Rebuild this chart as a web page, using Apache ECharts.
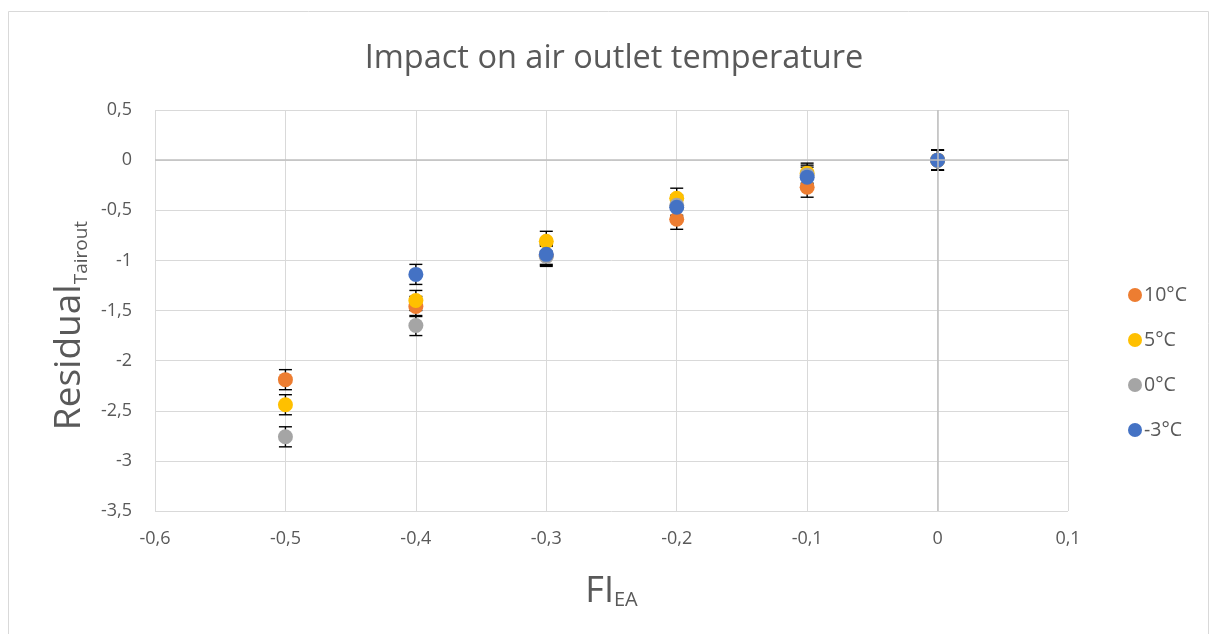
<!DOCTYPE html>
<html>
<head>
<meta charset="utf-8">
<script src="https://cdn.jsdelivr.net/npm/echarts@6/dist/echarts.min.js"></script>
<style>html,body{margin:0;padding:0;background:#fff}#c{width:1212px;height:634px}</style>
</head>
<body>
<div id="c"></div>
<script>
const xValues = [-0.5, -0.4, -0.3, -0.2, -0.1, 0];
const seriesNames = ['10°C', '5°C', '0°C', '-3°C'];
const temp10 = [-2.19, -1.46, -0.95, -0.59, -0.27, 0];
const temp5 = [-2.44, -1.40, -0.81, -0.38, -0.13, 0];
const temp0 = [-2.76, -1.65, -0.96, -0.45, -0.15, 0];
const tempMinus3 = [null, -1.14, -0.94, -0.47, -0.17, 0];
const errorValue = 0.1;
const colors = ['#ED7D31', '#FFC000', '#A5A5A5', '#4472C4'];
const allValues = [temp10, temp5, temp0, tempMinus3];

const font = "'Open Sans', 'Noto Sans', sans-serif";
const fmt = v => { const r = Math.round(v * 10) / 10; return (r === 0 ? '0' : String(r)).replace('.', ','); };

const series = [{
  type: 'scatter', data: [], silent: true, z: 1,
  markLine: {
    silent: true, symbol: ['none', 'none'], label: { show: false },
    lineStyle: { color: '#bfbfbf', width: 1.5, type: 'solid' },
    data: [{ xAxis: 0 }, { yAxis: 0 }]
  }
}];

allValues.forEach((vals, i) => {
  const pts = [];
  const errs = [];
  vals.forEach((v, j) => {
    if (v === null) return;
    pts.push([xValues[j], v]);
    errs.push([xValues[j], v, errorValue]);
  });
  series.push({
    type: 'custom', name: seriesNames[i] + ' err', silent: true, z: 2,
    data: errs,
    encode: { x: 0, y: 1 },
    renderItem: function (params, api) {
      const x = api.value(0), y = api.value(1), e = api.value(2);
      const t = api.coord([x, y + e]);
      const b = api.coord([x, y - e]);
      const hw = 6.5;
      const st = { stroke: '#000', lineWidth: 1.4 };
      return { type: 'group', children: [
        { type: 'line', shape: { x1: t[0], y1: t[1], x2: b[0], y2: b[1] }, style: st },
        { type: 'line', shape: { x1: t[0] - hw, y1: t[1], x2: t[0] + hw, y2: t[1] }, style: st },
        { type: 'line', shape: { x1: b[0] - hw, y1: b[1], x2: b[0] + hw, y2: b[1] }, style: st }
      ] };
    }
  });
  series.push({
    type: 'scatter', name: seriesNames[i], z: 2,
    symbol: 'circle', symbolSize: 15,
    itemStyle: { color: colors[i], opacity: 1 },
    data: pts
  });
});

const chart = echarts.init(document.getElementById('c'), null, { renderer: 'canvas' });
chart.setOption({
  backgroundColor: '#fff',
  animation: false,
  color: colors,
  title: {
    text: 'Impact on air outlet temperature',
    left: 609, top: 37, textAlign: 'center',
    textStyle: { fontFamily: font, fontSize: 32.5, fontWeight: 'normal', color: '#595959' }
  },
  legend: {
    data: seriesNames,
    orient: 'vertical', left: 1123, top: 280,
    itemWidth: 14, itemHeight: 14, itemGap: 25,
    icon: 'circle',
    textStyle: { fontFamily: font, fontSize: 19.5, color: '#595959', padding: [0, 0, 0, -3] }
  },
  graphic: [{
    type: 'rect', silent: true, z: -1,
    shape: { x: 8.5, y: 11.5, width: 1200, height: 700 },
    style: { fill: 'none', stroke: '#d9d9d9', lineWidth: 1 }
  }],
  grid: { left: 155, right: 144, top: 110, bottom: 123 },
  xAxis: {
    type: 'value', min: -0.6, max: 0.1, interval: 0.1,
    axisLine: { show: false }, axisTick: { show: false },
    splitLine: { show: true, lineStyle: { color: '#d9d9d9', width: 1 } },
    axisLabel: { formatter: fmt, fontFamily: font, fontSize: 18, color: '#595959', margin: 19 },
    name: '{b|FI}{s|EA}',
    nameLocation: 'middle', nameGap: 55, nameMoveOverlap: false,
    nameTextStyle: {
      fontFamily: font, color: '#595959',
      rich: {
        b: { fontFamily: font, fontSize: 36, color: '#595959', lineHeight: 44, verticalAlign: 'bottom' },
        s: { fontFamily: font, fontSize: 20, color: '#595959', lineHeight: 20, verticalAlign: 'bottom' }
      }
    }
  },
  yAxis: {
    type: 'value', min: -3.5, max: 0.5, interval: 0.5,
    axisLine: { show: false }, axisTick: { show: false },
    splitLine: { show: true, lineStyle: { color: '#d9d9d9', width: 1 } },
    axisLabel: { formatter: fmt, fontFamily: font, fontSize: 18, color: '#595959', margin: 23 },
    name: 'Residual{s|Tairout}',
    nameLocation: 'middle', nameRotate: 90, nameGap: 64, nameMoveOverlap: false,
    nameTextStyle: {
      fontFamily: font, fontSize: 37, color: '#595959', lineHeight: 44, verticalAlign: 'bottom',
      padding: [0, 30, 0, 0],
      rich: { s: { fontFamily: font, fontSize: 19, color: '#595959', lineHeight: 20, verticalAlign: 'bottom' } }
    }
  },
  series: series
});
</script>
</body>
</html>
